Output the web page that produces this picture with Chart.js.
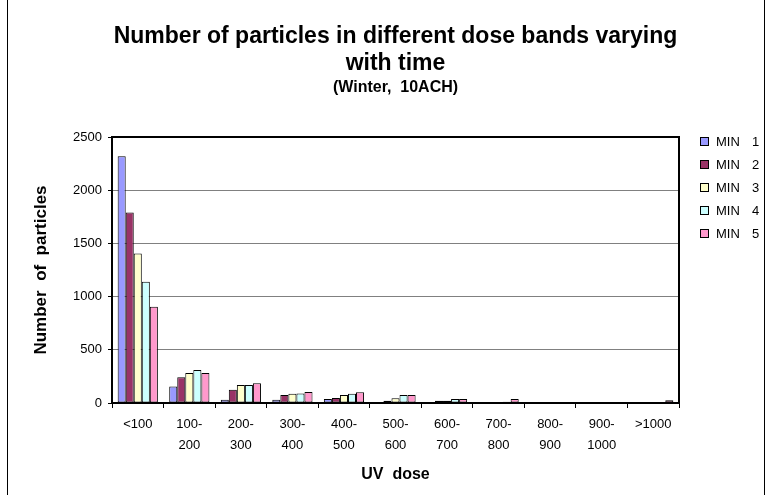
<!DOCTYPE html>
<html>
<head>
<meta charset="utf-8">
<script src="https://cdn.jsdelivr.net/npm/chart.js@4"></script>
<style>
  html, body { margin: 0; padding: 0; background: #fff; }
</style>
</head>
<body>
<canvas id="chart" width="767" height="495"></canvas>
<script>
const doseBands = [['<100'], ['100-', '200'], ['200-', '300'], ['300-', '400'], ['400-', '500'],
    ['500-', '600'], ['600-', '700'], ['700-', '800'], ['800-', '900'], ['900-', '1000'], ['>1000']];
const min1 = [2320, 155, 30, 30, 38, 5, 0, 0, 0, 0, 0];
const min2 = [1790, 242, 125, 75, 48, 20, 20, 0, 0, 0, 0];
const min3 = [1405, 283, 170, 87, 75, 45, 20, 8, 5, 5, 5];
const min4 = [1140, 310, 170, 90, 88, 75, 38, 12, 6, 10, 10];
const min5 = [905, 283, 185, 103, 100, 75, 38, 38, 10, 8, 25];
const yTicks = [0, 500, 1000, 1500, 2000, 2500];

const seriesNames = ['MIN', 'MIN', 'MIN', 'MIN', 'MIN'];
const seriesNums = ['1', '2', '3', '4', '5'];
const seriesColors = ['#9999FF', '#993366', '#FFFFCC', '#CCFFFF', '#FF99CC'];
const seriesData = [min1, min2, min3, min4, min5];

const FONT = 'Arial, "Liberation Sans", sans-serif';

// title, plot frame, legend and outer border drawn by hand
const decorations = {
    id: 'decorations',
    afterDraw(chart) {
        const ctx = chart.ctx;
        const a = chart.chartArea;
        const cx = (a.left + a.right) / 2;
        ctx.save();
        ctx.fillStyle = '#000';
        ctx.textAlign = 'center';
        ctx.textBaseline = 'middle';
        ctx.font = 'bold 23px ' + FONT;
        ctx.fillText('Number of particles in different dose bands varying', cx, 37);
        ctx.fillText('with time', cx, 64);
        ctx.font = 'bold 16px ' + FONT;
        ctx.fillText('(Winter,  10ACH)', cx, 88);

        ctx.strokeStyle = '#000';
        ctx.lineWidth = 2;
        ctx.strokeRect(a.left, a.top, a.right - a.left, a.bottom - a.top);

        // legend
        ctx.lineWidth = 1;
        ctx.textAlign = 'left';
        ctx.font = '13px ' + FONT;
        chart.data.datasets.forEach((ds, i) => {
            const y = a.top + 4 + i * 23;
            ctx.fillStyle = ds.backgroundColor;
            ctx.fillRect(700, y - 4, 8, 8);
            ctx.strokeRect(700.5, y - 3.5, 8, 8);
            ctx.fillStyle = '#000';
            ctx.fillText(ds.label, 716, y + 1);
            ctx.fillText(seriesNums[i], 752, y + 1);
        });

        ctx.strokeRect(7.5, -2, 757, 500);
        ctx.restore();
    }
};

new Chart(document.getElementById('chart'), {
    type: 'bar',
    data: {
        labels: doseBands,
        datasets: seriesData.map((d, i) => ({
            label: seriesNames[i],
            data: d,
            backgroundColor: seriesColors[i],
            borderColor: '#000',
            borderWidth: 1,
            borderSkipped: false,
            barPercentage: 1.0,
            categoryPercentage: 0.78
        }))
    },
    options: {
        responsive: false,
        animation: false,
        devicePixelRatio: 1,
        layout: {
            padding: { top: 137, right: 88, left: 0, bottom: 0 }
        },
        plugins: {
            title: { display: false },
            tooltip: { enabled: false },
            legend: { display: false }
        },
        scales: {
            x: {
                afterFit(axis) { axis.height = 92; },
                grid: {
                    offset: true,
                    drawOnChartArea: false,
                    color: '#000',
                    tickLength: 5
                },
                border: { color: '#000', width: 2 },
                ticks: {
                    color: '#000',
                    font: { family: FONT, size: 13, lineHeight: 1.6 },
                    maxRotation: 0,
                    autoSkip: false,
                    padding: 6
                },
                title: {
                    display: true,
                    text: 'UV  dose',
                    color: '#000',
                    font: { family: FONT, size: 16, weight: 'bold' },
                    padding: { top: 0, bottom: 11 }
                }
            },
            y: {
                min: 0,
                max: 2500,
                afterFit(axis) { axis.width = 112; },
                afterBuildTicks(axis) {
                    axis.ticks = yTicks.map(v => ({ value: v }));
                },
                grid: {
                    color: '#808080',
                    lineWidth: 1,
                    tickLength: 4,
                    tickColor: '#000'
                },
                border: { color: '#000', width: 2 },
                ticks: {
                    color: '#000',
                    font: { family: FONT, size: 13 },
                    padding: 6,
                    callback: v => String(v)
                },
                title: {
                    display: true,
                    text: 'Number  of  particles',
                    color: '#000',
                    font: { family: FONT, size: 17, weight: 'bold' },
                    padding: { top: 31, bottom: 0 }
                }
            }
        }
    },
    plugins: [decorations]
});
</script>
</body>
</html>
